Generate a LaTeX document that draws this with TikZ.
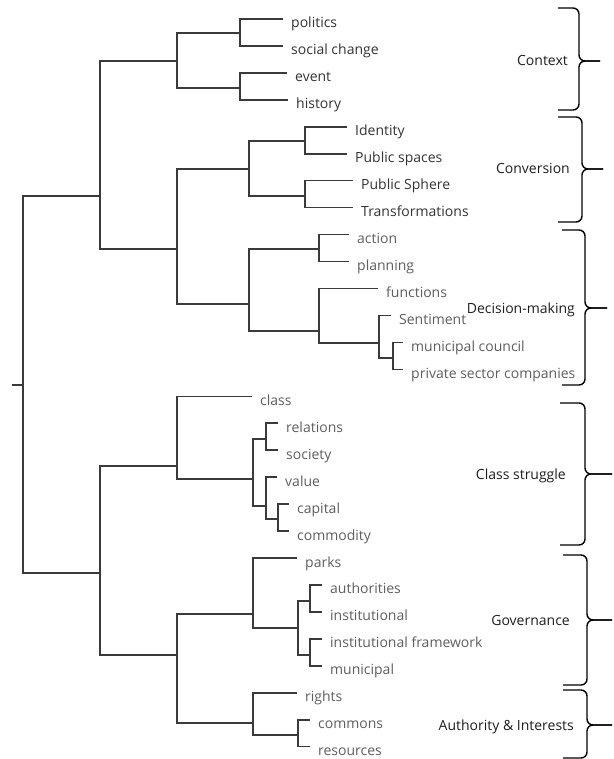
\documentclass[tikz,border=0pt]{standalone}
\usepackage{fontspec}
\setmainfont{Open Sans}
\usepackage{tikz}
\usetikzlibrary{calc}

\definecolor{treeline}{HTML}{3A3A3A}
\definecolor{leafdark}{HTML}{333333}
\definecolor{leaflight}{HTML}{5E5E5E}
\definecolor{groupink}{HTML}{1E1E1E}

\begin{document}
\begin{tikzpicture}[
		x=1pt, y=-1pt,
		branch/.style={draw=treeline, line width=1.6pt},
		bracket/.style={draw=black, line width=1.4pt, rounded corners=6pt},
		leaf/.style={inner sep=0pt, anchor=base west, font=\fontsize{14}{16}\selectfont},
		dark/.style={leaf, text=leafdark},
		light/.style={leaf, text=leaflight},
		group/.style={inner sep=0pt, anchor=base east, text=groupink, font=\fontsize{14}{16}\selectfont}
		]
		\useasboundingbox (0,0) rectangle (613,759);
		
		% === INNER JOINS ===
		\coordinate (stub) at (12,385);
		\coordinate (root) at (23,385);
		\coordinate (top) at (100,196);
		\coordinate (bot) at (100,573);
		\coordinate (ctx) at (177,61);
		\coordinate (ctx1) at (240,33);
		\coordinate (ctx2) at (240,88);
		\coordinate (cd) at (177,249);
		\coordinate (conv) at (249,169);
		\coordinate (conv1) at (305,141);
		\coordinate (conv2) at (305,196);
		\coordinate (dec) at (249,304);
		\coordinate (dec1) at (319,249);
		\coordinate (dec2) at (319,331);
		\coordinate (dec3) at (379,343);
		\coordinate (dec4) at (393,358);
		\coordinate (cls) at (177,466);
		\coordinate (cls1) at (253,479);
		\coordinate (cls2) at (266,439);
		\coordinate (cls3) at (266,506);
		\coordinate (cls4) at (278,519);
		\coordinate (gov) at (177,655);
		\coordinate (gov1) at (253,614);
		\coordinate (gov2) at (298,628);
		\coordinate (gov3) at (310,601);
		\coordinate (gov4) at (310,655);
		\coordinate (aui) at (253,723);
		\coordinate (aui1) at (298,735);
		
		% === LEAVES ===
		\foreach \name/\i/\xe/\sty/\txt in {
			pol/0/283/dark/politics, soc/1/283/dark/social change,
			evt/2/287/dark/event, his/3/288/dark/history,
			ide/4/347/dark/Identity, pub/5/347/dark/Public spaces,
			sph/6/353/dark/Public Sphere, tra/7/353/dark/Transformations,
			act/8/349/light/action, pla/9/349/light/planning,
			fun/10/378/light/functions, sen/11/391/light/Sentiment,
			mco/12/403/light/municipal council, psc/13/403/light/private sector companies,
			cla/14/252/light/class, rel/15/278/light/relations,
			sct/16/278/light/society, val/17/277/light/value,
			cap/18/289/light/capital, com/19/289/light/commodity,
			par/20/297/light/parks, aut/21/322/light/authorities,
			ins/22/322/light/institutional, inf/23/322/light/institutional framework,
			mun/24/322/light/municipal, rig/25/297/light/rights,
			cmn/26/310/light/commons, res/27/310/light/resources} {
			\coordinate (\name) at (\xe, {19+26.95*\i});
			\node[\sty] (\name-t) at ($(\name)+(8,9)$) {\txt};
		}
		
		% === BRANCHES ===
		\draw[branch] (stub) -- (root);
		\foreach \p/\c in {root/top, root/bot,
			top/ctx, top/cd, ctx/ctx1, ctx/ctx2,
			ctx1/pol, ctx1/soc, ctx2/evt, ctx2/his,
			cd/conv, cd/dec, conv/conv1, conv/conv2,
			conv1/ide, conv1/pub, conv2/sph, conv2/tra,
			dec/dec1, dec/dec2, dec1/act, dec1/pla, dec2/fun, dec2/dec3,
			dec3/sen, dec3/dec4, dec4/mco, dec4/psc,
			bot/cls, bot/gov, cls/cla, cls/cls1, cls1/cls2, cls1/cls3,
			cls2/rel, cls2/sct, cls3/val, cls3/cls4, cls4/cap, cls4/com,
			gov/gov1, gov/aui, gov1/par, gov1/gov2, gov2/gov3, gov2/gov4,
			gov3/aut, gov3/ins, gov4/inf, gov4/mun,
			aui/rig, aui/aui1, aui1/cmn, aui1/res} {
			\draw[branch] (\p) |- (\c);
		}
		
		% === THEME BRACES ===
		\foreach \name/\xa/\xs/\xt/\ya/\yb/\ym/\xl/\txt in {
			context/558/579/600/8/110/61/568/Context,
			conversion/558/582/603/117/222/169/570/Conversion,
			decision/562/585/607/230/385/308/575/Decision-making,
			struggle/560/585/612/403/545/474/566/Class struggle,
			governance/563/587/612/555/685/620/570/Governance,
			authority/563/587/612/690/758/725/574/Authority \& Interests} {
			\draw[bracket] (\xa,\ya) -- (\xs,\ya) -- (\xs,\ym) -- (\xt,\ym);
			\draw[bracket] (\xa,\yb) -- (\xs,\yb) -- (\xs,\ym) -- (\xt,\ym);
			\node[group] (\name) at (\xl,\ym+5) {\txt};
		}
		
	\end{tikzpicture}
\end{document}
